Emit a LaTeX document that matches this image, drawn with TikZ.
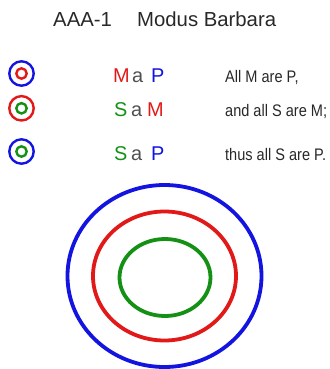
\documentclass[tikz,border=0pt]{standalone}
\usepackage{fontspec}
\setmainfont{Liberation Sans}
\definecolor{termP}{RGB}{20,20,225}
\definecolor{termM}{RGB}{225,25,25}
\definecolor{termS}{RGB}{20,145,20}
\definecolor{copula}{RGB}{80,80,80}
\definecolor{prose}{RGB}{40,40,40}
\begin{document}
\begin{tikzpicture}[x=1bp,y=-1bp,
  ring/.style={draw=#1,line width=2.4bp},
  bigring/.style={draw=#1,line width=3.8bp},
  letter/.style={anchor=base west,inner sep=0pt,font=\fontsize{20}{20}\selectfont},
  sentence/.style={anchor=base west,inner sep=0pt,text=prose,font=\fontsize{16.8}{16.8}\selectfont,xscale=0.87},
  title/.style={anchor=base west,inner sep=0pt,text=prose,font=\fontsize{20.4}{20.4}\selectfont}]
\useasboundingbox (0,0) rectangle (330,369);

% heading
\node[title] (mood) at (53,26) {AAA-1};
\node[title] (name) at (137,26) {Modus Barbara};

% small emblems of each premise
\draw[ring=termP] (21.5,73.5) circle (12.2);
\draw[ring=termM] (21.5,73.5) circle (5.2);
\draw[ring=termM] (21.5,108.3) circle (12.2);
\draw[ring=termS] (21.5,108.3) circle (5.2);
\draw[ring=termP] (21.5,151.5) circle (12.2);
\draw[ring=termS] (21.5,151.5) circle (5.2);

% symbolic form
\node[letter,text=termM] (m1) at (113,82) {M};
\node[letter,text=copula] (a1) at (132,82) {a};
\node[letter,text=termP] (p1) at (151,82) {P};
\node[letter,text=termS] (s2) at (114,116.5) {S};
\node[letter,text=copula] (a2) at (131,116.5) {a};
\node[letter,text=termM] (m2) at (147,116.5) {M};
\node[letter,text=termS] (s3) at (114,160.5) {S};
\node[letter,text=copula] (a3) at (131,160.5) {a};
\node[letter,text=termP] (p3) at (151,160.5) {P};

% verbal form
\node[sentence] (major) at (225,82) {All M are P,};
\node[sentence] (minor) at (225,116) {and all S are M;};
\node[sentence] (concl) at (225,160) {thus all S are P.};

% nested classes
\draw[bigring=termP] (164.5,276) ellipse [x radius=97, y radius=91];
\draw[bigring=termM] (164.5,276) ellipse [x radius=71.5, y radius=64.5];
\draw[bigring=termS] (165,277.5) ellipse [x radius=45.5, y radius=38.5];
\end{tikzpicture}
\end{document}
